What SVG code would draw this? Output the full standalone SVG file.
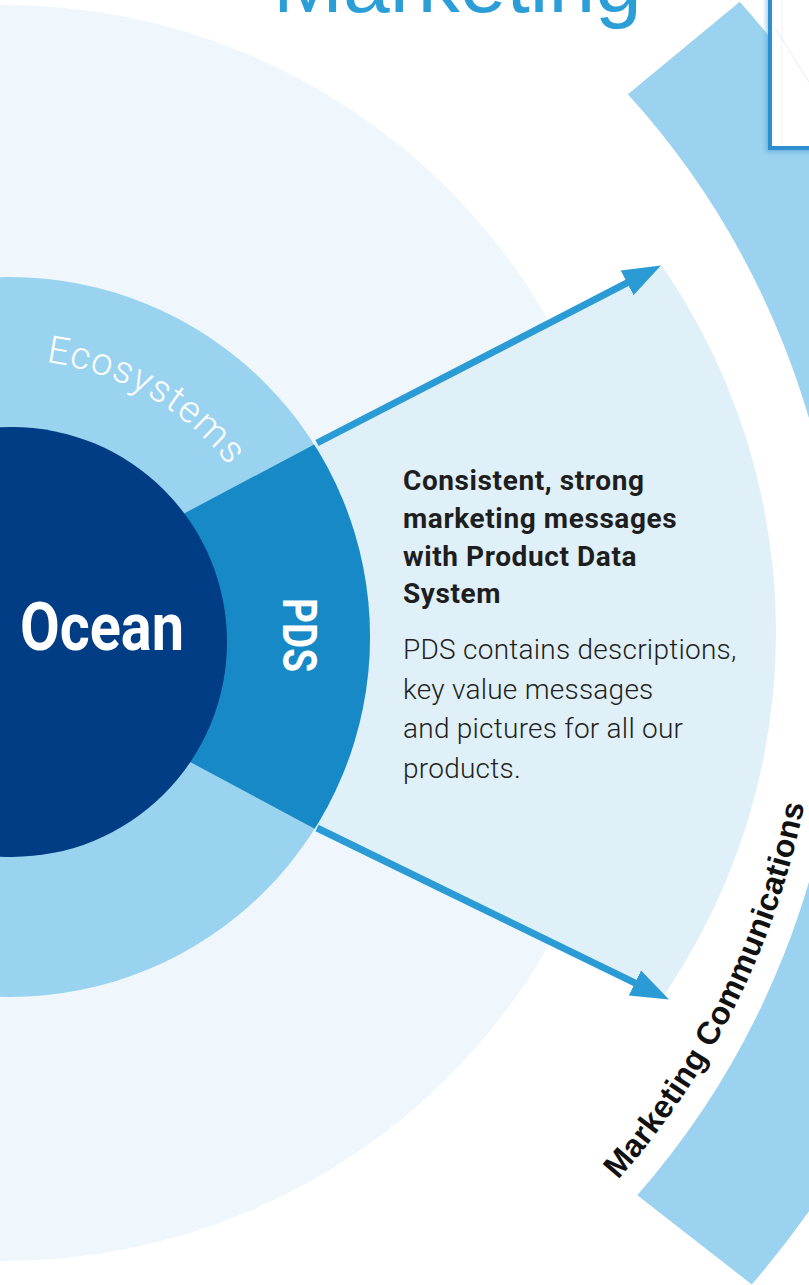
<svg xmlns="http://www.w3.org/2000/svg" width="809" height="1285" viewBox="0 0 809 1285">
  <style>
    .title { font-family: "Liberation Sans", Arial, sans-serif; font-size: 84px; fill: #2b9ed8; }
    .core { font-family: Roboto, "Liberation Sans", sans-serif; font-weight: 700; fill: #ffffff; }
    .ring-label { font-family: Roboto, "Liberation Sans", sans-serif; font-weight: 300; font-size: 38px; fill: #ffffff; letter-spacing: 1.3px; }
    .head { font-family: Roboto, "Liberation Sans", sans-serif; font-weight: 700; font-size: 28px; fill: #1e1e1e; letter-spacing: 0.6px; }
    .body { font-family: Roboto, "Liberation Sans", sans-serif; font-weight: 300; font-size: 28px; fill: #231f20; letter-spacing: 0.25px; }
    .band-label { font-family: "Liberation Sans", Arial, sans-serif; font-weight: 700; font-size: 32px; fill: #111111; letter-spacing: 0.2px; }
    .arrow { stroke: #2b9bd5; stroke-width: 7; fill: none; }
  </style>
  <defs>
    <marker id="head" markerUnits="userSpaceOnUse" markerWidth="40" markerHeight="30" viewBox="0 -15 40 30" refX="1" refY="0" orient="auto">
      <path d="M0,-14 L38,0 L0,14 Z" fill="#2b9bd5"/>
    </marker>
    <clipPath id="ringClip"><circle cx="10" cy="637" r="360"/></clipPath>
    <clipPath id="wedgeClip"><circle cx="131" cy="632" r="645"/></clipPath>
    <clipPath id="bandClip"><path d="M627,95 L858,-96 L1300,-96 L1300,1500 L900,1400 L637,1195 Z"/></clipPath>
    <filter id="soft" x="-20%" y="-20%" width="140%" height="140%">
      <feGaussianBlur stdDeviation="2"/>
    </filter>
    <path id="bandPath" d="M618,1180 A804 804 0 0 0 818,700"/>
    <path id="ecoPath" d="M46,362 A279 279 0 0 1 250.8,498"/>
  </defs>

  <rect width="809" height="1285" fill="#ffffff"/>

  <!-- outer band: Marketing Communications -->
  <g id="band">
    <circle cx="14" cy="650" r="900.5" fill="none" stroke="#9ad2ef" stroke-width="145" clip-path="url(#bandClip)"/>
    <text class="band-label"><textPath href="#bandPath">Marketing Communications</textPath></text>
  </g>

  <!-- framed panel at the top right -->
  <g id="panel">
    <rect x="766" y="-10" width="60" height="162" fill="#3a8fc8" opacity="0.45" filter="url(#soft)"/>
    <rect x="770" y="-10" width="50" height="158" fill="#ffffff" stroke="#2d8fd0" stroke-width="4"/>
    <line x1="782" y1="0" x2="782" y2="146" stroke="#eef2f6" stroke-width="1"/>
    <line x1="775" y1="28" x2="809" y2="82" stroke="#e3edf4" stroke-width="1"/>
  </g>

  <!-- heading -->
  <g id="title">
    <text class="title" x="273" y="12">Marketing</text>
  </g>

  <!-- pale outer disc -->
  <g id="background">
    <circle cx="4" cy="633" r="628" fill="#eff7fc"/>
  </g>

  <!-- highlighted wedge with description -->
  <g id="wedge">
    <path d="M185,513 L662,265 L900,141 L900,1113 L670,1000 L192,763 Z" fill="#dff0f9" clip-path="url(#wedgeClip)"/>
    <text class="head">
      <tspan x="403" y="490">Consistent, strong</tspan>
      <tspan x="403" y="528">marketing messages</tspan>
      <tspan x="403" y="566">with Product Data</tspan>
      <tspan x="403" y="603">System</tspan>
    </text>
    <text class="body">
      <tspan x="403" y="659">PDS contains descriptions,</tspan>
      <tspan x="403" y="699">key value messages</tspan>
      <tspan x="403" y="738">and pictures for all our</tspan>
      <tspan x="403" y="778">products.</tspan>
    </text>
  </g>

  <!-- Ecosystems ring -->
  <g id="ecosystems">
    <circle cx="10" cy="637" r="360" fill="#9ad3ef"/>
    <text class="ring-label"><textPath href="#ecoPath">Ecosystems</textPath></text>
  </g>

  <!-- PDS segment -->
  <g id="pds">
    <path d="M60,585 L185,513 L317,443 L600,296 L600,980 L317,830 L192,763 L60,695 Z" fill="#1689c6" clip-path="url(#ringClip)"/>
    <text class="core" font-size="48" transform="translate(283,598) rotate(90)" textLength="74" lengthAdjust="spacingAndGlyphs">PDS</text>
  </g>

  <!-- Ocean core -->
  <g id="ocean">
    <circle cx="12" cy="642" r="215" fill="#003d84"/>
    <text class="core" font-size="67" x="20" y="650" textLength="164" lengthAdjust="spacingAndGlyphs">Ocean</text>
  </g>

  <!-- connectors -->
  <g id="connectors">
    <line class="arrow" x1="317" y1="443" x2="628" y2="282.4" marker-end="url(#head)"/>
    <line class="arrow" x1="317" y1="828" x2="635.8" y2="983.4" marker-end="url(#head)"/>
  </g>
</svg>
